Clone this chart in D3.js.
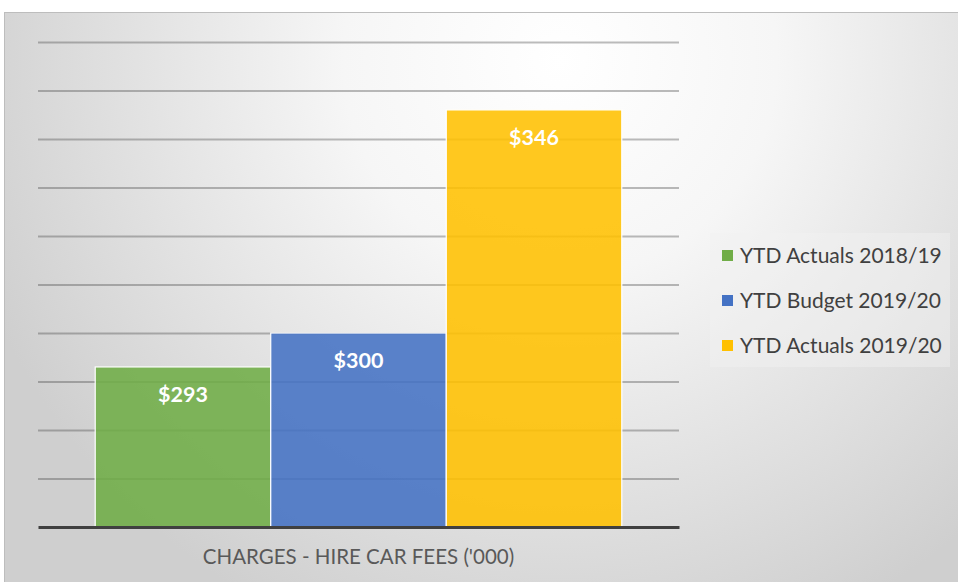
<!DOCTYPE html>
<html>
<head>
<meta charset="utf-8">
<script src="https://cdn.jsdelivr.net/npm/d3@7"></script>
<style>
  html, body { margin: 0; padding: 0; background: #fff; }
  svg { display: block; font-family: Lato, "Open Sans", sans-serif; }
</style>
</head>
<body>
<div id="chart"></div>
<script>
// --- data ---
const categories = ["CHARGES - HIRE CAR FEES ('000)"];
const seriesNames = ["YTD Actuals 2018/19", "YTD Budget 2019/20", "YTD Actuals 2019/20"];
const seriesValues = [293, 300, 346];
const seriesColors = ["#70ad47", "#4472c4", "#ffc000"];
const yDomain = [260, 360];

const width = 958, height = 582;
const svg = d3.select("#chart").append("svg")
    .attr("width", width).attr("height", height);

// background gradient (excel style radial)
const defs = svg.append("defs");
const grad = defs.append("radialGradient").attr("id", "bg")
    .attr("gradientUnits", "userSpaceOnUse")
    .attr("cx", 560).attr("cy", 60).attr("r", 620);
grad.append("stop").attr("offset", "0%").attr("stop-color", "#ffffff");
grad.append("stop").attr("offset", "35%").attr("stop-color", "#f6f6f6");
grad.append("stop").attr("offset", "100%").attr("stop-color", "#cfcfcf");

svg.append("rect")
    .attr("x", 4.5).attr("y", 12.5)
    .attr("width", width).attr("height", height)
    .attr("fill", "url(#bg)")
    .attr("stroke", "#bdbdbd");

// --- scales ---
const x0 = d3.scaleBand().domain(categories).range([38, 679]).padding(0.098);
const x1 = d3.scaleBand().domain(seriesNames).range([0, x0.bandwidth()]).padding(0);
const y = d3.scaleLinear().domain(yDomain).range([527, 42]);
const color = d3.scaleOrdinal().domain(seriesNames).range(seriesColors);

// gridlines
const grid = svg.append("g")
    .attr("transform", "translate(38,0)")
    .call(d3.axisLeft(y).ticks(10).tickSize(-(679 - 38)).tickFormat(""));
grid.select(".domain").remove();
grid.selectAll(".tick line")
    .attr("stroke", "#404040")
    .attr("stroke-opacity", 0.35)
    .attr("stroke-width", 2);
grid.selectAll(".tick").filter(d => d === yDomain[0]).remove();

// bars
const bars = seriesNames.map((s, i) => ({ cat: categories[0], name: s, value: seriesValues[i] }));
const g = svg.append("g");
g.selectAll(".bar")
    .data(bars)
    .join("rect")
    .attr("class", "bar")
    .attr("x", d => x0(d.cat) + x1(d.name))
    .attr("y", d => y(d.value))
    .attr("width", x1.bandwidth())
    .attr("height", d => y(yDomain[0]) - y(d.value))
    .attr("fill", d => color(d.name))
    .attr("fill-opacity", 0.88)
    .attr("stroke", "#ffffff")
    .attr("stroke-width", 1.2);

g.selectAll(".lbl")
    .data(bars)
    .join("text")
    .attr("class", "lbl")
    .attr("x", d => x0(d.cat) + x1(d.name) + x1.bandwidth() / 2)
    .attr("y", d => y(d.value) + 35)
    .attr("text-anchor", "middle")
    .attr("fill", "#ffffff")
    .attr("font-size", 21.5)
    .attr("font-weight", 700)
    .text(d => "$" + d.value);

// baseline
const xAxis = svg.append("g")
    .attr("transform", `translate(0,${y(yDomain[0])})`)
    .call(d3.axisBottom(x0).tickSize(0).tickPadding(0).tickFormat(""));
xAxis.select(".domain").attr("stroke", "#404040").attr("stroke-width", 3);

svg.append("text")
    .attr("x", x0(categories[0]) + x0.bandwidth() / 2)
    .attr("y", 564)
    .attr("text-anchor", "middle")
    .attr("fill", "#595959")
    .attr("font-size", 20.5)
    .text(categories[0]);

// legend
const legend = svg.append("g").attr("transform", "translate(710,233)");
legend.append("rect")
    .attr("width", 240).attr("height", 134)
    .attr("fill", "#f2f2f2").attr("fill-opacity", 0.45);
seriesNames.forEach((s, i) => {
    const row = legend.append("g").attr("transform", `translate(12,${23 + i * 45})`);
    row.append("rect").attr("x", 0).attr("y", -6).attr("width", 11).attr("height", 11)
        .attr("fill", color(s));
    row.append("text").attr("x", 18).attr("y", 7)
        .attr("fill", "#404040").attr("font-size", 21)
        .text(s);
});
</script>
</body>
</html>
